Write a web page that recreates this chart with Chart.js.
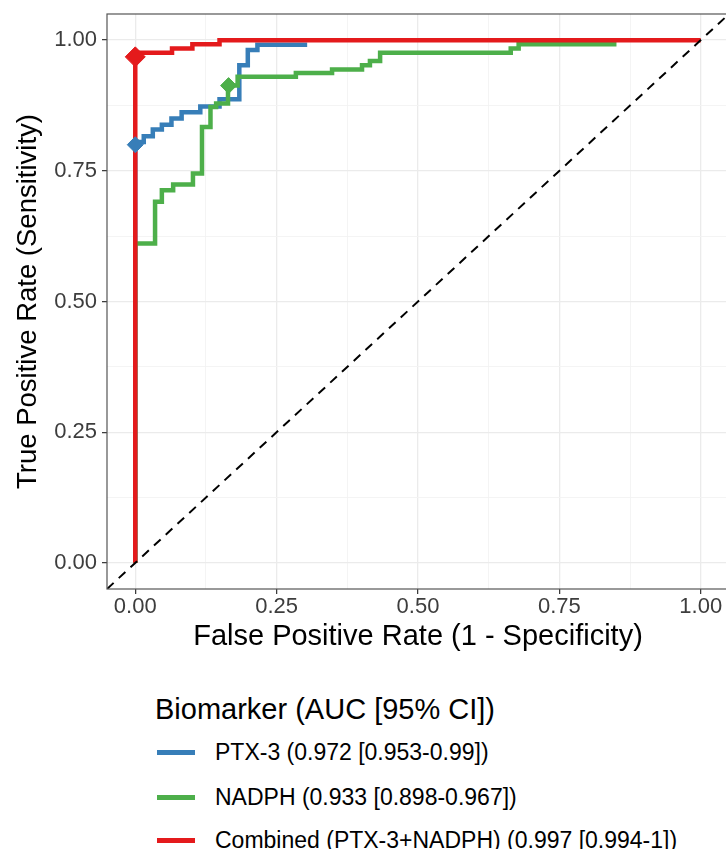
<!DOCTYPE html>
<html>
<head>
<meta charset="utf-8">
<script src="https://cdn.jsdelivr.net/npm/chart.js@4.4.1/dist/chart.umd.min.js"></script>
<style>
  html, body { margin: 0; padding: 0; background: #fff; overflow: hidden; }
  #wrap { position: relative; width: 726px; height: 849px; overflow: hidden;
          font-family: "Liberation Sans", Arial, sans-serif; }
  #roc { position: absolute; left: 0; top: 0; }
  .legend-title { position: absolute; left: 155px; top: 692px; font-size: 29px; line-height: 34px;
                  color: #000; white-space: nowrap; }
  .legend-item { position: absolute; left: 157px; height: 28px; font-size: 23px; line-height: 28px;
                 color: #000; white-space: nowrap; }
  .legend-item .key { position: absolute; left: 0; top: 11.5px; width: 38px; height: 5px; }
  .legend-item .label { position: absolute; left: 58px; top: 0; }
</style>
</head>
<body>
<div id="wrap">
  <canvas id="roc" width="740" height="660"></canvas>
  <div class="legend-title">Biomarker (AUC [95% CI])</div>
  <div id="legend"></div>
</div>
<script>
// series
const seriesNames = [
  'PTX-3 (0.972 [0.953-0.99])',
  'NADPH (0.933 [0.898-0.967])',
  'Combined (PTX-3+NADPH) (0.997 [0.994-1])'
];
const seriesColors = ['#377EB8', '#4DAF4A', '#E41A1C'];

// ROC points, drawn as steps
const ptx3Fpr = [0, 0, 0.015, 0.031, 0.047, 0.064, 0.082, 0.115, 0.149, 0.184, 0.199, 0.216, 0.304];
const ptx3Tpr = [0, 0.805, 0.816, 0.829, 0.838, 0.850, 0.862, 0.873, 0.887, 0.952, 0.981, 0.991, 0.991];

const nadphFpr = [0, 0, 0.035, 0.047, 0.067, 0.102, 0.118, 0.133, 0.143, 0.164, 0.181, 0.284, 0.348, 0.401, 0.415, 0.433, 0.664, 0.678, 0.851];
const nadphTpr = [0, 0.611, 0.691, 0.713, 0.724, 0.745, 0.834, 0.872, 0.879, 0.913, 0.930, 0.937, 0.944, 0.952, 0.960, 0.976, 0.984, 0.992, 0.992];

const combFpr = [0, 0, 0.065, 0.101, 0.149, 1];
const combTpr = [0, 0.976, 0.984, 0.992, 1, 1];

// best cut-off points
const cutoffFpr = [0, 0.165, 0];
const cutoffTpr = [0.800, 0.913, 0.968];

// axes
const axisMin = -0.05, axisMax = 1.05;
const xTickValues = [0, 0.25, 0.5, 0.75, 1];
const xTickLabels = ['0.00', '0.25', '0.50', '0.75', '1.00'];
const yTickValues = [0, 0.25, 0.5, 0.75, 1];
const yTickLabels = ['0.00', '0.25', '0.50', '0.75', '1.00'];
const minorTicks = [0.125, 0.375, 0.625, 0.875];

const toPoints = (xs, ys) => xs.map((x, i) => ({ x: x, y: ys[i] }));
const isMajor = (c, majors) => c.tick && majors.indexOf(c.tick.value) >= 0;

Chart.defaults.font.family = '"Liberation Sans", Arial, sans-serif';

// grey border round the panel, on top of the data
const panelBorder = {
  id: 'panelBorder',
  afterDatasetsDraw(chart) {
    const { ctx, chartArea: a } = chart;
    ctx.save();
    ctx.strokeStyle = '#555';
    ctx.lineWidth = 1.2;
    ctx.strokeRect(a.left, a.top, a.right - a.left, a.bottom - a.top);
    ctx.restore();
  }
};

function axis(majors, labels, title, isX) {
  return {
    type: 'linear',
    min: axisMin,
    max: axisMax,
    afterBuildTicks: s => {
      s.ticks = majors.concat(minorTicks).sort((a, b) => a - b).map(v => ({ value: v }));
    },
    afterFit: s => {
      // the end labels sit inside the 5% expansion, so no extra edge padding
      if (isX) {
        s.height = 71;
        s.paddingLeft = 0;
        s.paddingRight = 0;
      } else {
        s.width = 107;
        s.paddingTop = 0;
        s.paddingBottom = 0;
      }
    },
    ticks: {
      autoSkip: false,
      maxRotation: 0,
      padding: isX ? 0 : 5,
      color: '#3d3d3d',
      font: { size: 22 },
      callback: v => {
        const i = majors.indexOf(v);
        return i >= 0 ? labels[i] : '';
      }
    },
    grid: {
      color: c => isMajor(c, majors) ? '#EBEBEB' : '#F3F3F3',
      lineWidth: c => isMajor(c, majors) ? 1.3 : 0.9,
      tickLength: 5,
      tickWidth: 1.2,
      tickColor: c => isMajor(c, majors) ? '#333' : 'rgba(0,0,0,0)'
    },
    border: { display: false },
    title: {
      display: true,
      text: title,
      color: '#000',
      font: { size: isX ? 29 : 27.5 },
      padding: isX ? { top: 0, bottom: 6 } : { top: 12, bottom: 0 }
    }
  };
}

const lineStyle = {
  showLine: true,
  stepped: true,
  borderWidth: 4.5,
  pointRadius: 0,
  pointHoverRadius: 0,
  fill: false
};

new Chart(document.getElementById('roc'), {
  type: 'scatter',
  data: {
    datasets: [
      {
        label: 'cut-off',
        data: toPoints(cutoffFpr, cutoffTpr),
        pointStyle: 'rectRot',
        pointRadius: [8, 8, 10],
        backgroundColor: seriesColors,
        borderColor: seriesColors,
        borderWidth: 1,
        order: 0
      },
      {
        label: 'reference',
        data: [{ x: axisMin, y: axisMin }, { x: axisMax, y: axisMax }],
        showLine: true,
        borderColor: '#000',
        borderWidth: 2,
        borderDash: [9, 7],
        pointRadius: 0,
        order: 1
      },
      Object.assign({ label: seriesNames[2], data: toPoints(combFpr, combTpr), borderColor: seriesColors[2], order: 2 }, lineStyle),
      Object.assign({ label: seriesNames[1], data: toPoints(nadphFpr, nadphTpr), borderColor: seriesColors[1], order: 3 }, lineStyle),
      Object.assign({ label: seriesNames[0], data: toPoints(ptx3Fpr, ptx3Tpr), borderColor: seriesColors[0], order: 4 }, lineStyle)
    ]
  },
  options: {
    responsive: false,
    animation: false,
    layout: { padding: { top: 14, right: 7, left: 0, bottom: 0 } },
    plugins: {
      legend: { display: false },
      tooltip: { enabled: false }
    },
    scales: {
      x: axis(xTickValues, xTickLabels, 'False Positive Rate (1 - Specificity)', true),
      y: axis(yTickValues, yTickLabels, 'True Positive Rate (Sensitivity)', false)
    }
  },
  plugins: [panelBorder]
});

// legend below the panel, one row per biomarker
const legendCenters = [752, 797, 840];
const legend = document.getElementById('legend');
seriesNames.forEach((name, i) => {
  const item = document.createElement('div');
  item.className = 'legend-item';
  item.style.top = (legendCenters[i] - 14) + 'px';
  item.innerHTML = '<span class="key" style="background:' + seriesColors[i] + '"></span>' +
                   '<span class="label"></span>';
  item.querySelector('.label').textContent = name;
  legend.appendChild(item);
});
</script>
</body>
</html>
